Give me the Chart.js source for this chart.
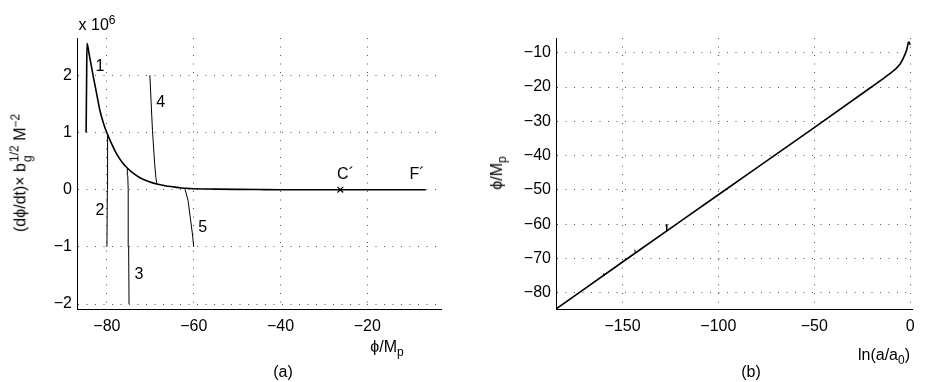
<!DOCTYPE html>
<html>
<head>
<meta charset="utf-8">
<script src="https://cdn.jsdelivr.net/npm/chart.js@4.4.0/dist/chart.umd.min.js"></script>
<style>
  body { margin: 0; background: #fff; width: 926px; height: 382px; position: relative; overflow: hidden;
         font-family: "Liberation Sans", Arial, sans-serif; color: #000; }
  canvas { position: absolute; top: 0; }
  #chartA { left: 0; }
  #chartB { left: 470px; }
  .lbl { position: absolute; font-size: 16px; white-space: nowrap; line-height: 1; transform: translate(-50%, -50%); }
  .rot { transform: translate(-50%, -50%) rotate(-90deg); }
  sub, sup { font-size: 12px; line-height: 0; }
  .ss { display: inline-flex; flex-direction: column; vertical-align: middle; font-size: 12px; line-height: 1.05; margin-left: 1px; }
</style>
</head>
<body>
<canvas id="chartA" width="460" height="382"></canvas>
<canvas id="chartB" width="456" height="382"></canvas>

<div class="lbl" style="left:97px;top:25px">x 10<sup>6</sup></div>
<div class="lbl rot" style="left:21px;top:173px">(dϕ/dt)× b<span class="ss"><span>1/2</span><span>g</span></span> M<sup>−2</sup></div>
<div class="lbl" style="left:387px;top:347px">ϕ/M<sub>p</sub></div>
<div class="lbl" style="left:283px;top:372px">(a)</div>

<div class="lbl rot" style="left:497px;top:173px">ϕ/M<sub>p</sub></div>
<div class="lbl" style="left:884px;top:355px">ln(a/a<sub>0</sub>)</div>
<div class="lbl" style="left:751px;top:372px">(b)</div>

<script>
// panel (a): d(phi)/dt vs phi
const mainPhi = [-84.8, -84.7, -84.6, -84.1, -83.1, -82.3, -81.6, -80.8, -80.0, -78.9, -77.8, -76.5, -75.2,
                 -73.8, -72.4, -70.4, -68.5, -66.6, -64.8, -62.8, -60.9, -55, -50, -45, -40, -30, -20, -10, -6.5];
const mainDot = [1.0, 1.8, 2.56, 2.37, 1.96, 1.65, 1.38, 1.16, 0.99, 0.80, 0.63, 0.48, 0.37,
                 0.28, 0.21, 0.145, 0.10, 0.07, 0.05, 0.03, 0.02, 0.01, 0.005, 0.002, 0, 0, 0, 0, 0];
const traj2Phi = [-80.0, -79.9, -79.85];
const traj2Dot = [-1.0, 0.0, 0.95];
const traj3Phi = [-74.9, -75.0, -75.1, -75.2, -75.3];
const traj3Dot = [-2.0, -1.0, 0.0, 0.25, 0.37];
const traj4Phi = [-70.1, -69.8, -69.5, -69.0, -68.7, -68.5];
const traj4Dot = [2.0, 1.5, 1.03, 0.45, 0.2, 0.1];
const traj5Phi = [-62.0, -61.3, -60.8, -60.3, -60.0];
const traj5Dot = [0.01, -0.19, -0.48, -0.77, -1.0];
const pointCPhi = [-26.2];
const pointCDot = [0];

const noteText = ['1', '2', '3', '4', '5', 'C´', 'F´'];
const notePhi  = [-81.6, -81.6, -72.6, -67.6, -57.9, -25.0, -8.5];
const noteDot  = [2.15, -0.37, -1.49, 1.53, -0.67, 0.27, 0.27];

const ticksAX = [-80, -60, -40, -20];
const ticksAY = [-2, -1, 0, 1, 2];

// panel (b): phi vs ln(a/a0)
const lnA   = [-184.7, -150, -100, -50, -20.7, -12, -5.2, -2.6, -1.5, -0.9, -0.5, -0.2, 0];
const phiB  = [-84.7, -71.0, -51.4, -31.8, -20.2, -16.7, -13.3, -10.4, -8.6, -7.0, -6.9, -7.3, -7.7];
const hook1X = [-127.3, -126.9], hook1Y = [-60.0, -62.0];
const hook2X = [-143.6, -143.3], hook2Y = [-67.4, -68.4];
const hook3X = [-160.0, -159.7], hook3Y = [-74.4, -75.0];

const ticksBX = [-150, -100, -50, 0];
const ticksBY = [-80, -70, -60, -50, -40, -30, -20, -10];

Chart.defaults.font.family = '"Liberation Sans", Arial, sans-serif';
Chart.defaults.font.size = 16;
Chart.defaults.color = '#000';

function pts(xs, ys) { return xs.map((x, i) => ({ x: x, y: ys[i] })); }
function minus(v) { return String(v).replace('-', '\u2212'); }

function line(xs, ys, w) {
  return { data: pts(xs, ys), showLine: true, borderColor: '#000', borderWidth: w,
           pointRadius: 0, tension: 0 };
}

function axis(min, max, ticks, isX, size) {
  return {
    type: 'linear', min: min, max: max,
    afterBuildTicks: s => { s.ticks = ticks.map(v => ({ value: v })); },
    afterFit: s => { if (isX) s.height = size; else s.width = size; },
    grid: { color: '#555', lineWidth: 1, drawTicks: false },
    border: { display: true, color: '#000', width: 1, dash: [1, 7.5] },
    ticks: { padding: isX ? 8 : 5, callback: minus, maxRotation: 0 }
  };
}

const notes = {
  id: 'notes',
  afterDatasetsDraw(chart, args, opts) {
    if (!opts.text) return;
    const ctx = chart.ctx, sx = chart.scales.x, sy = chart.scales.y;
    ctx.save();
    ctx.font = '16px "Liberation Sans", Arial, sans-serif';
    ctx.fillStyle = '#000';
    ctx.textAlign = 'center';
    ctx.textBaseline = 'middle';
    opts.text.forEach((t, i) => ctx.fillText(t, sx.getPixelForValue(opts.xs[i]), sy.getPixelForValue(opts.ys[i])));
    ctx.restore();
  }
};

new Chart(document.getElementById('chartA'), {
  type: 'scatter',
  data: {
    datasets: [
      Object.assign(line(mainPhi, mainDot, 1.6), { cubicInterpolationMode: 'monotone' }),
      line(traj2Phi, traj2Dot, 1),
      line(traj3Phi, traj3Dot, 1),
      line(traj4Phi, traj4Dot, 1),
      line(traj5Phi, traj5Dot, 1),
      { data: pts(pointCPhi, pointCDot), showLine: false, pointStyle: 'crossRot', pointRadius: 4,
        borderColor: '#000', borderWidth: 1.2 }
    ]
  },
  options: {
    responsive: false, animation: false,
    layout: { padding: { left: 0, right: 19, top: 38, bottom: 0 } },
    plugins: { legend: { display: false }, tooltip: { enabled: false },
               notes: { text: noteText, xs: notePhi, ys: noteDot } },
    scales: {
      x: axis(-86.9, -3.0, ticksAX, true, 73),
      y: axis(-2.086, 2.652, ticksAY, false, 77)
    }
  },
  plugins: [notes]
});

new Chart(document.getElementById('chartB'), {
  type: 'scatter',
  data: {
    datasets: [
      Object.assign(line(lnA, phiB, 1.6), { cubicInterpolationMode: 'monotone' }),
      line(hook1X, hook1Y, 1),
      line(hook2X, hook2Y, 1),
      line(hook3X, hook3Y, 1)
    ]
  },
  options: {
    responsive: false, animation: false,
    layout: { padding: { left: 0, right: 14, top: 38, bottom: 0 } },
    plugins: { legend: { display: false }, tooltip: { enabled: false } },
    scales: {
      x: axis(-184.7, 1, ticksBX, true, 73),
      y: axis(-84.7, -5.7, ticksBY, false, 86)
    }
  }
});
</script>
</body>
</html>
